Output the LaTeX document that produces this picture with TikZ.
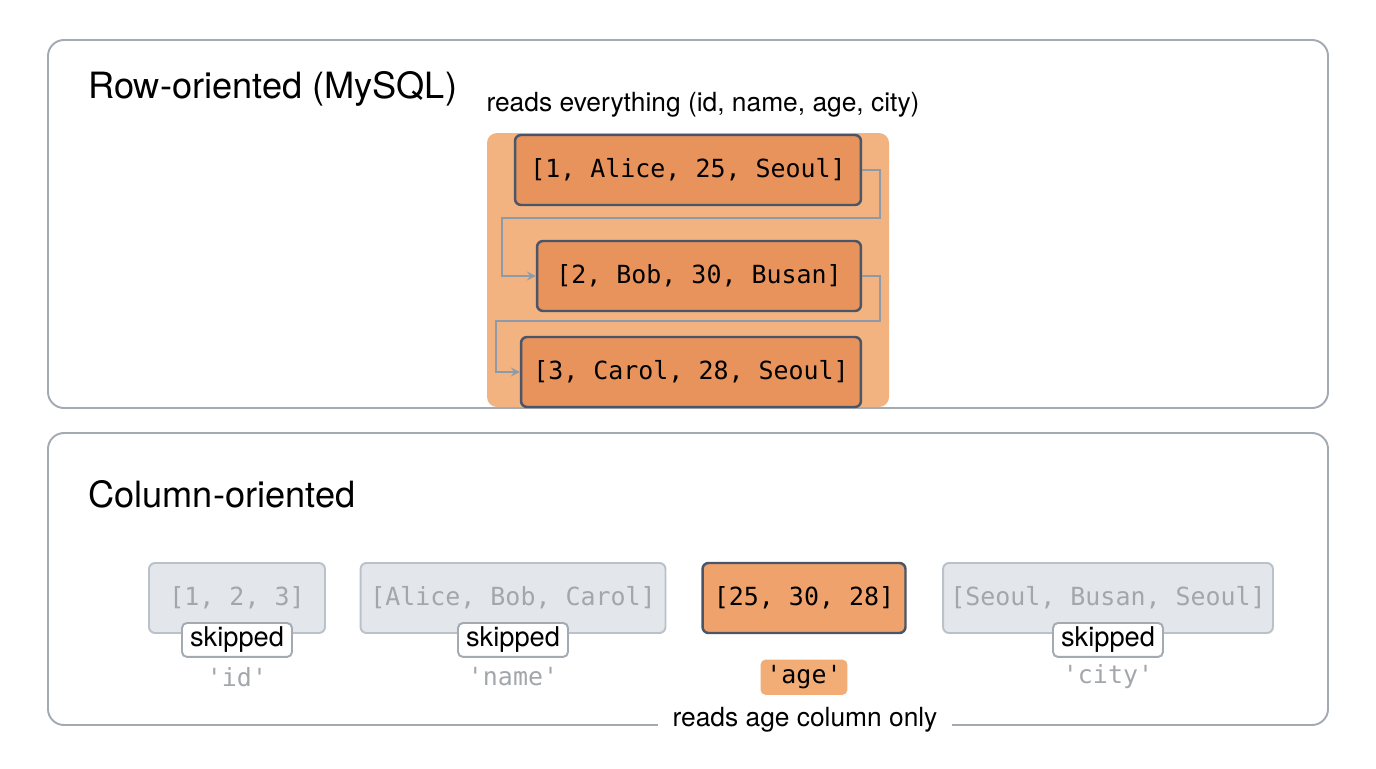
\documentclass[tikz,border=0pt]{standalone}
\usepackage{fontspec}
\setmainfont{TeX Gyre Heros}
\setmonofont{DejaVu Sans Mono}
\usetikzlibrary{calc, arrows, positioning}

\definecolor{panelgray}{HTML}{A3AAB2}
\definecolor{rowfill}{HTML}{E8925C}
\definecolor{rowback}{HTML}{F2B380}
\definecolor{rowedge}{HTML}{4A5568}
\definecolor{flowgray}{HTML}{8C9BAA}
\definecolor{colfill}{HTML}{E3E7EC}
\definecolor{coledge}{HTML}{B9C1CA}
\definecolor{coltext}{HTML}{A3A7AB}
\definecolor{agefill}{HTML}{EFA26C}
\definecolor{agepill}{HTML}{F2AC76}

\tikzset{
	panel/.style={draw=panelgray, line width=1.1pt, fill=white, rounded corners=.32cm},
	title/.style={anchor=west, inner sep=0pt, font=\fontsize{20.6}{24}\selectfont},
	note/.style={font=\fontsize{15}{18}\selectfont},
	rowbox/.style={draw=rowedge, line width=1.4pt, fill=rowfill, rounded corners=.12cm,
		minimum height=1.4cm, font=\ttfamily\fontsize{14.2}{17}\selectfont},
	flow/.style={draw=flowgray, line width=1.2pt, ->, >=stealth},
	colbox/.style={draw=coledge, line width=1.1pt, fill=colfill, rounded corners=.12cm,
		minimum height=1.4cm, text=coltext, font=\ttfamily\fontsize{14.2}{17}\selectfont},
	agebox/.style={colbox, draw=rowedge, line width=1.4pt, fill=agefill, text=black},
	skipbadge/.style={draw=panelgray, line width=1.1pt, fill=white, rounded corners=.1cm,
		minimum width=2.2cm, minimum height=.68cm, inner sep=0pt, font=\fontsize{15.5}{18}\selectfont},
	colname/.style={text=coltext, font=\ttfamily\fontsize{14.2}{17}\selectfont},
}

\begin{document}
\begin{tikzpicture}[x=.02cm, y=-.02cm]
	\useasboundingbox (0,0) rectangle (1376,768);

	% --- row-oriented ---
	\draw[panel] (48,40) rectangle (1328,408);
	\node[title] (rowtitle) at (88,89) {Row-oriented (MySQL)};
	\node[note] (rowread) at (703,105) {reads everything (id, name, age, city)};
	\fill[rowback, rounded corners=.2cm] (487,133) rectangle (889,407);

	\node[rowbox, minimum width=6.92cm] (r1) at (688,170) {[1, Alice, 25, Seoul]};
	\node[rowbox, minimum width=6.48cm] (r2) at (699,276) {[2, Bob, 30, Busan]};
	\node[rowbox, minimum width=6.80cm] (r3) at (691,372) {[3, Carol, 28, Seoul]};

	\draw[flow] (r1.east) -- ++(18,0) |- (502,218) |- (r2.west);
	\draw[flow] (r2.east) -- ++(18,0) |- (496,321) |- (r3.west);

	% --- column-oriented ---
	\draw[panel] (48,433) rectangle (1328,725);
	\node[title] (coltitle) at (88,494) {Column-oriented};

	\node[colbox, minimum width=3.52cm] (cid) at (237,598) {[1, 2, 3]};
	\node[colbox, minimum width=6.10cm] (cname) at (513,598) {[Alice, Bob, Carol]};
	\node[agebox, minimum width=4.06cm] (cage) at (804,598) {[25, 30, 28]};
	\node[colbox, minimum width=6.60cm] (ccity) at (1108,598) {[Seoul, Busan, Seoul]};

	\node[skipbadge] (sid) at ([yshift=-1.2mm]cid.south) {skipped};
	\node[skipbadge] (sname) at ([yshift=-1.2mm]cname.south) {skipped};
	\node[skipbadge] (scity) at ([yshift=-1.2mm]ccity.south) {skipped};

	\node[colname] (lid) at ([yshift=-8.6mm]cid.south) {'id'};
	\node[colname] (lname) at ([yshift=-8.6mm]cname.south) {'name'};
	\node[colname, text=black, fill=agepill, rounded corners=.1cm, minimum width=1.66cm, minimum height=.7cm] (lage) at ([yshift=-8.6mm]cage.south) {'age'};
	\node[colname] (lcity) at ([yshift=-8.6mm]ccity.south) {'city'};

	\node[note, fill=white, inner xsep=.3cm] (colread) at (805,720) {reads age column only};
\end{tikzpicture}
\end{document}
